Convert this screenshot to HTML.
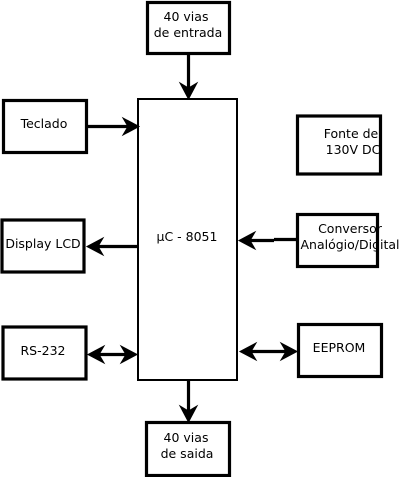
<!DOCTYPE html>
<html><head><style>html,body{margin:0;padding:0;background:#fff}svg{display:block}</style></head><body>
<svg width="410" height="477" viewBox="0 0 410 477" xmlns="http://www.w3.org/2000/svg" font-family="'DejaVu Sans', 'Liberation Sans', sans-serif" font-size="12.5" fill="#000">
<defs><path id="ah" d="M0,0 L-16,-8.5 L-11,0 L-16,8.5 Z" fill="#000" stroke="#000" stroke-width="1"/></defs>
<g fill="none" stroke="#000" stroke-width="3.2">
<rect x="147.5" y="2.5" width="82" height="51"/>
<rect x="3.5" y="100.5" width="83" height="52"/>
<rect x="2" y="220" width="82" height="52"/>
<rect x="3" y="327" width="83" height="52"/>
<rect x="297.5" y="116" width="83" height="58"/>
<rect x="297.5" y="214.5" width="80" height="52"/>
<rect x="298.5" y="324.5" width="83" height="52"/>
<rect x="146.5" y="422.5" width="83" height="53"/>
<line x1="188.5" y1="53" x2="188.5" y2="92"/>
<line x1="87" y1="126.5" x2="132" y2="126.5"/>
<line x1="137" y1="246.5" x2="94" y2="246.5"/>
<line x1="296" y1="239.5" x2="274" y2="239.5"/>
<line x1="274" y1="240.5" x2="246" y2="240.5"/>
<line x1="95" y1="354.5" x2="130" y2="354.5"/>
<line x1="247" y1="351.5" x2="290" y2="351.5"/>
<line x1="188.5" y1="380" x2="188.5" y2="416"/>
</g>
<rect x="138" y="99" width="99" height="281" fill="none" stroke="#000" stroke-width="2"/>
<use href="#ah" transform="translate(188.5,99) rotate(90)"/>
<use href="#ah" transform="translate(139,126.5)"/>
<use href="#ah" transform="translate(87,246.5) rotate(180)"/>
<use href="#ah" transform="translate(239,240.5) rotate(180)"/>
<use href="#ah" transform="translate(88,354.5) rotate(180)"/>
<use href="#ah" transform="translate(137,354.5)"/>
<use href="#ah" transform="translate(240,351.5) rotate(180)"/>
<use href="#ah" transform="translate(297,351.5)"/>
<use href="#ah" transform="translate(188.5,422) rotate(90)"/>
<g text-anchor="middle">
<text x="186" y="21">40 vias</text>
<text x="188" y="37">de entrada</text>
<text x="44" y="128">Teclado</text>
<text x="351" y="138">Fonte de</text>
<text x="353" y="154">130V DC</text>
<text x="187" y="241">µC - 8051</text>
<text x="43" y="248">Display LCD</text>
<text x="350" y="233">Conversor</text>
<text x="350" y="249">Analógio/Digital</text>
<text x="43" y="355">RS-232</text>
<text x="339" y="352">EEPROM</text>
<text x="186" y="442">40 vias</text>
<text x="187" y="458">de saida</text>
</g>
</svg>
</body></html>
